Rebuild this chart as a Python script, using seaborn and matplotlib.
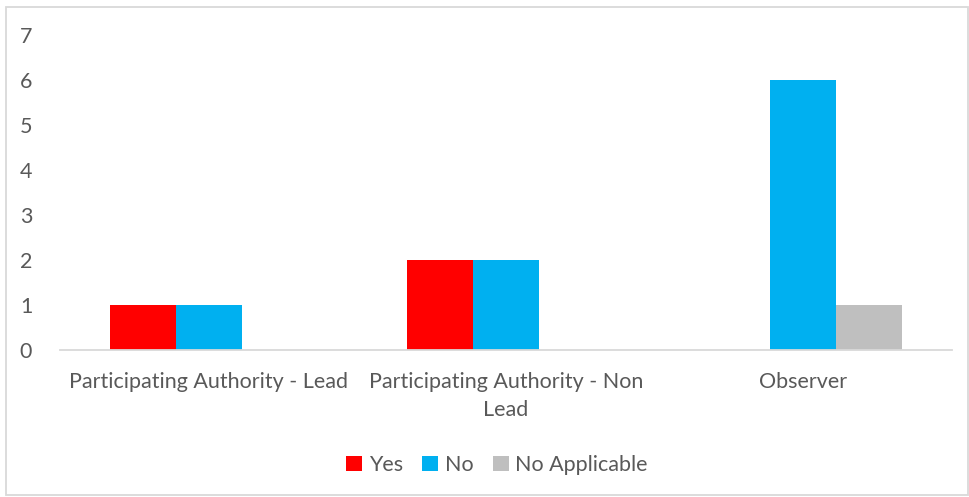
import matplotlib
matplotlib.use("Agg")
import matplotlib.pyplot as plt
from matplotlib.patches import Rectangle, Patch
import seaborn as sns
import pandas as pd

categories = ["Participating Authority - Lead", "Participating Authority - Non\nLead", "Observer"]
series = ["Yes", "No", "No Applicable"]
yes_values = [1, 2, 0]
no_values = [1, 2, 6]
na_values = [0, 0, 1]
colors = ["#FF0000", "#00B0F0", "#BFBFBF"]

rows = []
for cat, y, n, a in zip(categories, yes_values, no_values, na_values):
    rows.append({"category": cat, "series": "Yes", "value": y})
    rows.append({"category": cat, "series": "No", "value": n})
    rows.append({"category": cat, "series": "No Applicable", "value": a})
df = pd.DataFrame(rows)

sns.set_theme(style="white")
plt.rcParams["font.family"] = ["Lato", "DejaVu Sans"]
text_color = "#595959"

fig = plt.figure(figsize=(9.7, 4.97), dpi=100)
ax = fig.add_axes([60 / 970, 147 / 497, 892 / 970, 315 / 497])

sns.barplot(data=df, x="category", y="value", hue="series", hue_order=series,
            palette=colors, width=0.667, saturation=1, linewidth=0,
            legend=False, ax=ax)

ax.set_ylim(0, 7)
ax.set_xlim(-0.5, 2.5)
ax.set_yticks(range(0, 8))
ax.set_xlabel("")
ax.set_ylabel("")
ax.tick_params(axis="both", length=0, labelsize=15.5, colors=text_color)
ax.tick_params(axis="y", pad=20)
ax.tick_params(axis="x", pad=16)
for lbl in ax.get_xticklabels():
    lbl.set_linespacing(1.5)
for side in ["left", "right", "top"]:
    ax.spines[side].set_visible(False)
ax.spines["bottom"].set_color("#D9D9D9")
ax.spines["bottom"].set_linewidth(1.3)

handles = [Patch(facecolor=c, edgecolor="none", label=s) for s, c in zip(series, colors)]
fig.legend(handles=handles, loc="center", bbox_to_anchor=(497 / 970, 1 - 465 / 497),
           ncol=3, frameon=False, fontsize=15.5, handlelength=0.75, handleheight=0.75,
           handletextpad=0.3, columnspacing=0.9, labelcolor=text_color)

fig.patches.append(Rectangle((6 / 970, 2 / 497), 962 / 970, 488 / 497,
                             transform=fig.transFigure, fill=False,
                             edgecolor="#D9D9D9", linewidth=1.3))

fig.savefig("out.png", dpi=100, facecolor="white")
